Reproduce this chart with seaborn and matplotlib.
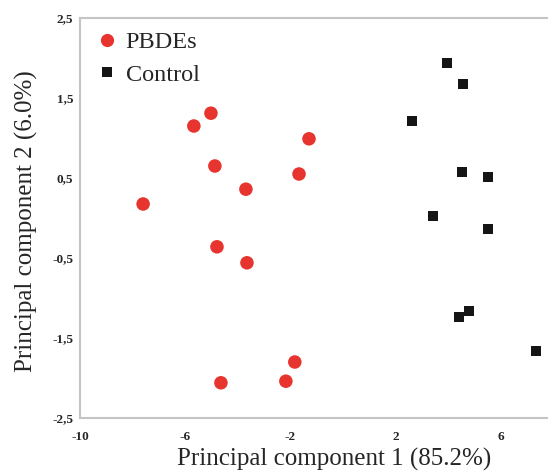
import matplotlib
matplotlib.use("Agg")
import matplotlib.pyplot as plt
import seaborn as sns
import pandas as pd
from matplotlib.lines import Line2D

pbde_x = [-7.6, -5.67, -5.02, -4.87, -3.69, -1.29, -1.67, -4.79, -3.65, -1.83, -4.64, -2.17]
pbde_y = [0.175, 1.15, 1.31, 0.65, 0.36, 0.99, 0.55, -0.36, -0.56, -1.80, -2.06, -2.04]
ctrl_x = [3.95, 4.56, 2.62, 4.52, 5.51, 3.42, 5.51, 4.79, 4.41, 7.34]
ctrl_y = [1.94, 1.675, 1.21, 0.575, 0.51, 0.025, -0.14, -1.16, -1.24, -1.66]
groups = ["PBDEs", "Control"]
xticks = [-10, -6, -2, 2, 6]
yticks = [2.5, 1.5, 0.5, -0.5, -1.5, -2.5]
ytick_labels = ["2,5", "1,5", "0,5", "-0,5", "-1,5", "-2,5"]

df = pd.DataFrame({
    "pc1": pbde_x + ctrl_x,
    "pc2": pbde_y + ctrl_y,
    "group": [groups[0]] * len(pbde_x) + [groups[1]] * len(ctrl_x),
})

sns.set_style("white")
plt.rcParams["font.family"] = ["Liberation Serif", "DejaVu Serif"]

fig = plt.figure(figsize=(5.48, 4.73), dpi=100)
ax = fig.add_axes([80 / 548, 55 / 473, 468 / 548, 400 / 473])

red = "#e8342e"
black = "#151515"
sub_p = df[df.group == "PBDEs"]
sub_c = df[df.group == "Control"]
sns.scatterplot(data=sub_p, x="pc1", y="pc2", color=red, marker="o", s=95,
                edgecolor="none", ax=ax, legend=False)
sns.scatterplot(data=sub_c, x="pc1", y="pc2", color=black, marker="s", s=50,
                edgecolor="none", ax=ax, legend=False)

ax.set_xlim(-10, 7.8)
ax.set_ylim(-2.5, 2.5)
ax.set_xticks(xticks)
ax.set_xticklabels([str(t) for t in xticks])
ax.set_yticks(yticks)
ax.set_yticklabels(ytick_labels)
ax.tick_params(axis="both", length=0, labelsize=9.5)
ax.tick_params(axis="x", pad=9)
ax.tick_params(axis="y", pad=5)
for lab in ax.get_xticklabels() + ax.get_yticklabels():
    lab.set_fontweight("bold")

for side in ["left", "bottom", "top"]:
    ax.spines[side].set_visible(True)
    ax.spines[side].set_color("#c4c4c4")
    ax.spines[side].set_linewidth(1.5)
ax.spines["right"].set_visible(False)

ax.set_xlabel("Principal component 1 (85.2%)", fontsize=18)
ax.xaxis.set_label_coords((334 - 80) / 468, -0.075)
ax.set_ylabel("Principal component 2 (6.0%)", fontsize=18)
ax.yaxis.set_label_coords((38 - 80) / 468, (473 - 55 - 221) / 400)

handles = [
    Line2D([], [], marker="o", color=red, linestyle="none", markersize=9.5, markeredgewidth=0),
    Line2D([], [], marker="s", color=black, linestyle="none", markersize=7, markeredgewidth=0),
]
ax.legend(handles, groups, loc="upper left", bbox_to_anchor=(-0.009, 1.01), frameon=False,
          fontsize=17.5, handletextpad=0.15, borderaxespad=0.3, labelspacing=0.45,
          handlelength=1.2)

fig.savefig("out.png", dpi=100)
